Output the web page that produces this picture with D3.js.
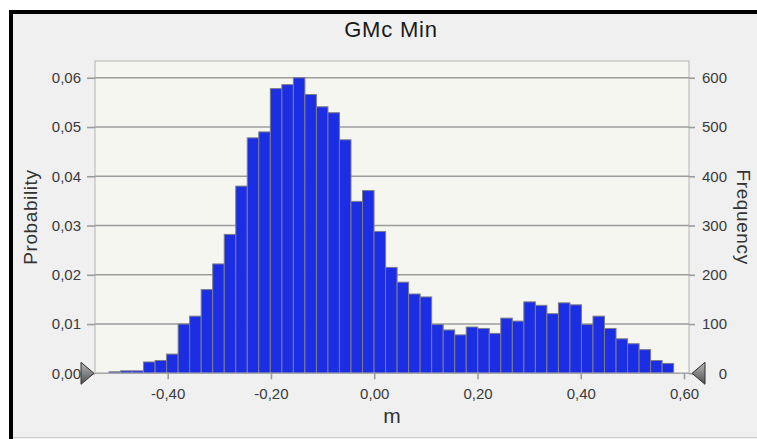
<!DOCTYPE html>
<html>
<head>
<meta charset="utf-8">
<script src="https://cdn.jsdelivr.net/npm/d3@7"></script>
<style>
  body { margin: 0; background: #fff; }
  svg { display: block; font-family: "Liberation Sans", Arial, sans-serif; }
</style>
</head>
<body>
<div id="container"></div>
<script>
// histogram counts per bin (10000 trials)
const frequencies = [3, 5, 5, 23, 26, 39, 100, 116, 170, 222, 282, 380, 478, 490, 578, 586, 600,
  566, 541, 529, 474, 349, 371, 288, 215, 185, 161, 155, 99, 88, 78, 94, 91, 81, 112, 106, 145,
  138, 121, 143, 139, 99, 116, 91, 70, 60, 48, 26, 20];
const trials = 10000;
const binLo = -0.5137;
const binWidth = 0.02232;
const xTicks = [-0.4, -0.2, 0, 0.2, 0.4, 0.6];
const probTicks = [0, 0.01, 0.02, 0.03, 0.04, 0.05, 0.06];
const freqTicks = [0, 100, 200, 300, 400, 500, 600];
const title = "GMc Min";

const width = 757, height = 439;
const plot = { left: 95, right: 689, top: 61, bottom: 373.3 };

const loc = d3.formatLocale({ decimal: ",", thousands: ".", grouping: [3], currency: ["", ""], minus: "-" });
const fmt2 = loc.format(".2f");

const svg = d3.select("#container")
              .append("svg")
              .attr("width", width)
              .attr("height", height);

// window frame: black edge only on the left and top
svg.append("rect").attr("x", 0).attr("y", 0).attr("width", width).attr("height", height).attr("fill", "#fff");
svg.append("rect").attr("x", 9).attr("y", 10).attr("width", width - 9).attr("height", height - 10)
   .attr("fill", "#f0f0f0");
svg.append("path").attr("d", "M11," + height + "V12H" + width)
   .attr("fill", "none").attr("stroke", "#000").attr("stroke-width", 4);
svg.append("line").attr("x1", 13).attr("x2", width).attr("y1", 437.5).attr("y2", 437.5)
   .attr("stroke", "#cfcfcf").attr("stroke-width", 1);

const x = d3.scaleLinear().domain([-0.5408, 0.6097]).range([plot.left, plot.right]);
const yP = d3.scaleLinear().domain([0, 0.0634]).range([plot.bottom, plot.top]);
const yF = d3.scaleLinear().domain([0, 0.0634 * trials]).range([plot.bottom, plot.top]);

// plot background
svg.append("rect")
   .attr("x", plot.left).attr("y", plot.top)
   .attr("width", plot.right - plot.left).attr("height", plot.bottom - plot.top)
   .attr("fill", "#f6f6f0")
   .attr("stroke", "#b4b4b4").attr("stroke-width", 1);

// gridlines
svg.append("g").selectAll("line")
   .data(probTicks.filter(d => d > 0))
   .enter().append("line")
   .attr("x1", plot.left).attr("x2", plot.right)
   .attr("y1", d => yP(d)).attr("y2", d => yP(d))
   .attr("stroke", "#9c9c9c").attr("stroke-width", 1.6);

// bars
svg.append("g").selectAll("rect")
   .data(frequencies)
   .enter().append("rect")
   .attr("x", (d, i) => x(binLo + i * binWidth))
   .attr("width", (d, i) => x(binLo + (i + 1) * binWidth) - x(binLo + i * binWidth))
   .attr("y", d => yP(d / trials))
   .attr("height", d => plot.bottom - yP(d / trials))
   .attr("fill", "#1c2ee4")
   .attr("stroke", "#7c7c8c").attr("stroke-width", 1);

// baseline
svg.append("line").attr("x1", plot.left).attr("x2", plot.right)
   .attr("y1", plot.bottom).attr("y2", plot.bottom)
   .attr("stroke", "#a8a8a8").attr("stroke-width", 1.5);

const styleAxis = (g) => {
  g.select(".domain").remove();
  g.selectAll(".tick line").attr("stroke", "#9c9c9c").attr("stroke-width", 1.6);
  g.selectAll(".tick text").attr("fill", "#3a3a3a").style("font-size", "15px")
   .style("font-family", "'Liberation Sans', Arial, sans-serif");
};

const xAxis = d3.axisBottom(x).tickValues(xTicks).tickSize(6).tickPadding(9).tickFormat(fmt2);
svg.append("g").attr("transform", "translate(0," + plot.bottom + ")").call(xAxis).call(styleAxis);

const yAxisL = d3.axisLeft(yP).tickValues(probTicks).tickSize(8).tickPadding(6).tickFormat(fmt2);
svg.append("g").attr("transform", "translate(" + plot.left + ",0)").call(yAxisL).call(styleAxis);

const yAxisR = d3.axisRight(yF).tickValues(freqTicks).tickSize(6).tickPadding(8).tickFormat(d3.format("d"));
svg.append("g").attr("transform", "translate(" + plot.right + ",0)").call(yAxisR).call(styleAxis)
   .selectAll(".tick text").attr("text-anchor", "end").attr("x", 38);

// marker triangles at zero
const grad = svg.append("defs").append("linearGradient").attr("id", "tri").attr("x1", 0).attr("x2", 0).attr("y1", 0).attr("y2", 1);
grad.append("stop").attr("offset", "0%").attr("stop-color", "#b8b8b8");
grad.append("stop").attr("offset", "100%").attr("stop-color", "#505050");
svg.append("path")
   .attr("d", "M" + 81 + "," + (yP(0) - 11) + "L" + 94 + "," + yP(0) + "L" + 81 + "," + (yP(0) + 11) + "Z")
   .attr("fill", "url(#tri)").attr("stroke", "#303030").attr("stroke-width", 1);
svg.append("path")
   .attr("d", "M" + 705 + "," + (yF(0) - 11) + "L" + 692 + "," + yF(0) + "L" + 705 + "," + (yF(0) + 11) + "Z")
   .attr("fill", "url(#tri)").attr("stroke", "#303030").attr("stroke-width", 1);

// titles
svg.append("text").text(title)
   .attr("x", 391).attr("y", 36.5).attr("text-anchor", "middle")
   .style("font-size", "22px").style("letter-spacing", "0.8px").attr("fill", "#1a1a1a");
svg.append("text").text("m")
   .attr("x", (plot.left + plot.right) / 2).attr("y", 423).attr("text-anchor", "middle")
   .style("font-size", "21px").attr("fill", "#333");
svg.append("text").text("Probability")
   .attr("text-anchor", "middle")
   .attr("transform", "translate(37," + (plot.top + plot.bottom) / 2 + ")rotate(-90)")
   .style("font-size", "19px").style("letter-spacing", "0.6px").attr("fill", "#333");
svg.append("text").text("Frequency")
   .attr("text-anchor", "middle")
   .attr("transform", "translate(737," + (plot.top + plot.bottom) / 2 + ")rotate(90)")
   .style("font-size", "19px").style("letter-spacing", "0.6px").attr("fill", "#333");
</script>
</body>
</html>
